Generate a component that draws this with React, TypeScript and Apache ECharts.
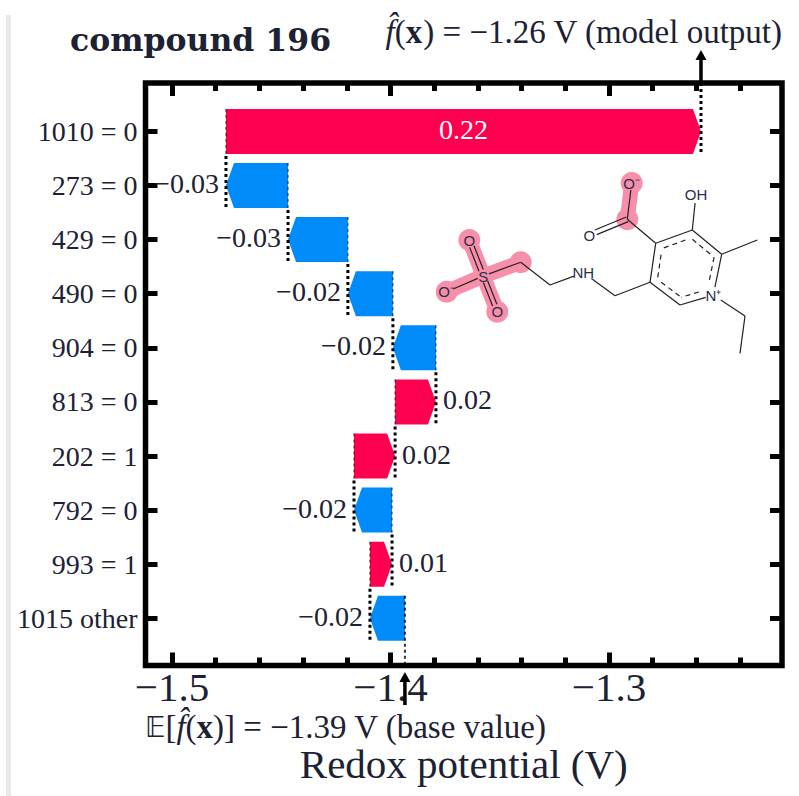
import React, { useEffect, useRef } from "react";
import * as echarts from "echarts";

const categories = ["1010 = 0", "273 = 0", "429 = 0", "490 = 0", "904 = 0", "813 = 0", "202 = 1", "792 = 0", "993 = 1", "1015 other"];
const contributions = [0.2174, -0.0284, -0.0274, -0.0206, -0.0197, 0.0187, 0.0188, -0.0174, 0.0101, -0.016];
const baseValue = -1.3934;
const majorTicks = [-1.5, -1.4, -1.3];
const minorTicks = [-1.48, -1.46, -1.44, -1.42, -1.38, -1.36, -1.34, -1.32, -1.28, -1.26, -1.24];
const rowTicks = [0, 1, 2, 3, 4, 5, 6, 7, 8, 9];

const RED = "#ff0051";
const BLUE = "#008bfb";
const SERIF = "'Liberation Serif', serif";
const PINK = "#f78fab";
const INK = "#1c2233";
const X_MIN = -1.51213, X_MAX = -1.22082, Y_MIN = -0.8945, Y_MAX = 9.872;
const HALF = 0.416;
const fmtMinus = (s: string) => s.replace("-", "\u2212");

function buildRows() {
  const rows: number[][] = [];
  let cur = baseValue;
  for (let i = categories.length - 1; i >= 0; i--) {
    const end = cur + contributions[i];
    rows[i] = [i, cur, end, contributions[i]];
    cur = end;
  }
  return rows;
}

function renderBar(params: any, api: any) {
  const i = api.value(0);
  const start = api.value(1);
  const end = api.value(2);
  const c = api.value(3);
  const topY = api.coord([start, i - HALF])[1];
  const botY = api.coord([start, i + HALF])[1];
  const midY = api.coord([start, i])[1];
  const xs = api.coord([start, i])[0];
  const xe = api.coord([end, i])[0];
  const dir = xe >= xs ? 1 : -1;
  const head = Math.min(8, Math.abs(xe - xs));
  const shoulder = xe - dir * head;
  const children: any[] = [
    {
      type: "polygon",
      shape: { points: [[xs, topY], [shoulder, topY], [xe, midY], [shoulder, botY], [xs, botY]] },
      style: { fill: c > 0 ? RED : BLUE },
    },
  ];
  const tipTop = i === 0 ? api.coord([end, Y_MIN])[1] : api.coord([end, i - 1 + HALF])[1] + 2;
  children.push({
    type: "line",
    shape: { x1: xe, y1: tipTop, x2: xe, y2: botY },
    style: { stroke: "#000", lineWidth: 3, lineDash: [3, 3] },
  });
  const baseBot = i === categories.length - 1 ? api.coord([start, Y_MAX])[1] : botY;
  children.push({
    type: "line",
    shape: { x1: xs, y1: topY, x2: xs, y2: baseBot },
    style: { stroke: "#000", lineWidth: i === categories.length - 1 ? 2 : 1, lineDash: [3, 3], opacity: 0.8 },
  });
  const label = fmtMinus(c.toFixed(2));
  if (i === 0) {
    children.push({
      type: "text",
      x: (xs + xe) / 2,
      y: midY - 2,
      style: { text: label, fill: "#fff", font: `28px ${SERIF}`, textAlign: "center", textVerticalAlign: "middle" },
    });
  } else {
    children.push({
      type: "text",
      x: xe + dir * 7,
      y: midY - 2,
      style: { text: label, fill: INK, font: `28px ${SERIF}`, textAlign: dir > 0 ? "left" : "right", textVerticalAlign: "middle" },
    });
  }
  const arrow = (x: number, tip: number, tail: number) => {
    const s = tail > tip ? 1 : -1;
    children.push({ type: "line", shape: { x1: x, y1: tip + s * 6, x2: x, y2: tail }, style: { stroke: "#000", lineWidth: 3.5 } });
    children.push({ type: "polygon", shape: { points: [[x, tip], [x - 5.5, tip + s * 10], [x + 5.5, tip + s * 10]] }, style: { fill: "#000" } });
  };
  if (i === 0) {
    const gridTop = api.coord([end, Y_MIN])[1];
    arrow(xe, gridTop - 33, gridTop - 2);
  }
  if (i === categories.length - 1) {
    const gridBot = api.coord([start, Y_MAX])[1];
    arrow(xs, gridBot + 6.5, gridBot + 39.5);
  }
  return { type: "group", children };
}

type P = [number, number];
const bond = (a: P, b: P, ta = 0, tb = 0, off = 0, width = 1.2, dash?: number[]) => {
  const dx = b[0] - a[0], dy = b[1] - a[1];
  const L = Math.hypot(dx, dy);
  const ux = dx / L, uy = dy / L;
  const nx = -uy * off, ny = ux * off;
  return {
    type: "line",
    shape: { x1: a[0] + ux * ta + nx, y1: a[1] + uy * ta + ny, x2: b[0] - ux * tb + nx, y2: b[1] - uy * tb + ny },
    style: { stroke: "#222", lineWidth: width, lineDash: dash },
    z: 12,
  };
};
const glow = (a: P, b: P) => ({
  type: "line",
  shape: { x1: a[0], y1: a[1], x2: b[0], y2: b[1] },
  style: { stroke: PINK, lineWidth: 15, lineCap: "round" },
  z: 10,
});
const halo = (p: P) => ({ type: "circle", shape: { cx: p[0], cy: p[1], r: 11 }, style: { fill: PINK }, z: 10 });
const atom = (p: P, t: string) => ({
  type: "text",
  x: p[0],
  y: p[1],
  style: { text: t, fill: "#2a2f4a", font: "15px 'Liberation Sans', sans-serif", textAlign: "center", textVerticalAlign: "middle" },
  z: 13,
});

function moleculeElements() {
  const oMinus: P = [631.7, 183], cc: P = [627.3, 219.3], oDouble: P = [589.3, 235];
  const c4: P = [655.7, 243.3], c3: P = [692.3, 230], c2: P = [721.7, 254.3], n: P = [713.3, 295], c6: P = [680, 305], c5: P = [650, 282.3];
  const oh: P = [696, 194], me: P = [757.3, 240], ch2a: P = [615, 295.7], nh: P = [583.3, 272.7], ch2b: P = [550, 285], ch2c: P = [520.7, 262.3];
  const s: P = [483.3, 276], oT: P = [469.3, 240], oL: P = [446.7, 291.7], oB: P = [497.3, 311.7], e1: P = [745, 316], e2: P = [740, 353.3];
  const ring = [c4, c3, c2, n, c6, c5];
  const cx = ring.reduce((a, p) => a + p[0], 0) / 6, cy = ring.reduce((a, p) => a + p[1], 0) / 6;
  const inner = ring.map((p) => [cx + (p[0] - cx) * 0.79, cy + (p[1] - cy) * 0.79] as P);
  const els: any[] = [
    halo(oMinus), halo(cc), glow(oMinus, cc), halo(oT), halo(oL), halo(oB), halo(ch2c),
    glow(oT, s), glow(s, oB), glow(oL, s), glow(s, ch2c),
    bond(oMinus, cc, 7, 0),
    bond(cc, oDouble, 0, 7, 2.5), bond(cc, oDouble, 0, 7, -2.5),
    bond(cc, c4), bond(c4, c3), bond(c3, c2), bond(c2, n, 0, 8), bond(n, c6, 8, 0), bond(c6, c5), bond(c5, c4),
    bond(c3, oh, 0, 9), bond(c2, me), bond(c5, ch2a), bond(ch2a, nh, 0, 10), bond(nh, ch2b, 10, 0), bond(ch2b, ch2c),
    bond(ch2c, s, 0, 6), bond(s, oL, 6, 7),
    bond(s, oT, 6, 7, 2.3), bond(s, oT, 6, 7, -2.3), bond(s, oB, 6, 7, 2.3), bond(s, oB, 6, 7, -2.3),
    bond(n, e1, 9, 0), bond(e1, e2),
  ];
  for (let k = 0; k < 6; k++) {
    if (k === 2 || k === 3) {
      const a = inner[k], b = inner[(k + 1) % 6];
      els.push(bond(a, b, k === 2 ? 0 : 9, k === 2 ? 9 : 0, 0, 1.2, [5, 4]));
    } else {
      els.push(bond(inner[k], inner[(k + 1) % 6], 2, 2, 0, 1.2, [5, 4]));
    }
  }
  els.push(atom(oMinus, "O\u207B"), atom(oDouble, "O"), atom(oh, "OH"), atom(n, "N\u207A"), atom(nh, "NH"), atom(s, "S"), atom(oT, "O"), atom(oL, "O\u207B"), atom(oB, "O"));
  return els;
}

const formula = (prefix: string, tail: string) => `${prefix}{i|f\u0302}({b|x})${tail}`;
const rich = {
  i: { fontFamily: SERIF, fontStyle: "italic", fontSize: 33, fill: INK, color: INK },
  b: { fontFamily: SERIF, fontWeight: "bold", fontSize: 33, fill: INK, color: INK },
  e: { fontFamily: "'DejaVu Sans', sans-serif", fontSize: 28, fill: INK, color: INK },
};

const hiddenAxis = {
  type: "value" as const,
  min: X_MIN,
  max: X_MAX,
  axisLine: { show: false, onZero: false },
  splitLine: { show: false },
  axisLabel: { show: false },
};
const xTick = (position: "top" | "bottom", values: number[], length: number) => ({
  ...hiddenAxis,
  position,
  axisTick: { show: true, inside: true, length, customValues: values, lineStyle: { color: "#000", width: 5 } },
});
const yTick = (position: "left" | "right", show: boolean) => ({
  type: "value" as const,
  min: Y_MIN,
  max: Y_MAX,
  inverse: true,
  position,
  axisLine: { show: false, onZero: false },
  splitLine: { show: false },
  axisTick: { show: true, inside: true, length: 12, customValues: rowTicks, lineStyle: { color: "#000", width: 5 } },
  axisLabel: {
    show,
    customValues: rowTicks,
    margin: 8,
    fontFamily: SERIF,
    fontSize: 28,
    color: INK,
    formatter: (v: number) => categories[Math.round(v)],
  },
});

export default function App() {
  const ref = useRef<HTMLDivElement>(null);
  useEffect(() => {
    const chart = echarts.init(ref.current!, null, { renderer: "svg" });
    chart.setOption({
      animation: false,
      backgroundColor: "#fff",
      title: {
        text: "compound 196",
        left: 65,
        top: 18,
        textStyle: { fontFamily: "'DejaVu Serif', serif", fontWeight: "bold", fontSize: 31.5, color: "#1c2233" },
      },
      grid: { show: true, outerBoundsMode: "none", left: 145.5, top: 83, width: 636.5, height: 582.5, borderColor: "#000", borderWidth: 5.5, backgroundColor: "#fff" },
      xAxis: [
        {
          ...xTick("bottom", majorTicks, 13),
          name: "Redox potential (V)",
          nameLocation: "middle",
          nameGap: 78,
          nameTextStyle: { fontFamily: SERIF, fontSize: 41, color: INK },
          axisLabel: {
            show: true,
            customValues: majorTicks,
            margin: 1,
            fontFamily: SERIF,
            fontSize: 41,
            color: INK,
            formatter: (v: number) => fmtMinus(v.toFixed(1)),
          },
        },
        xTick("bottom", minorTicks, 8),
        xTick("top", majorTicks, 13),
        xTick("top", minorTicks, 8),
      ],
      yAxis: [yTick("left", true), yTick("right", false)],
      series: [
        {
          type: "custom",
          xAxisIndex: 0,
          yAxisIndex: 0,
          clip: false,
          z: 5,
          renderItem: renderBar,
          encode: { x: [1, 2], y: 0 },
          data: buildRows(),
        },
      ],
      graphic: [
        { type: "rect", shape: { x: 6, y: 15, width: 5, height: 781 }, style: { fill: "#e8e8e8" }, silent: true },
        { type: "group", children: moleculeElements() },
        {
          type: "text",
          x: 782,
          y: 32,
          style: {
            text: formula("", " = \u22121.26 V (model output)"),
            font: `33px ${SERIF}`,
            fill: INK,
            textAlign: "right",
            textVerticalAlign: "middle",
            rich,
          },
        },
        {
          type: "text",
          x: 145,
          y: 727,
          style: {
            text: formula("{e|\uD835\uDD3C}[", "] = \u22121.39 V (base value)"),
            font: `33px ${SERIF}`,
            fill: INK,
            textAlign: "left",
            textVerticalAlign: "middle",
            rich,
          },
        },
      ],
    });
    return () => chart.dispose();
  }, []);
  return <div ref={ref} style={{ position: "fixed", left: 0, top: 0, width: 799, height: 796 }} />;
}
